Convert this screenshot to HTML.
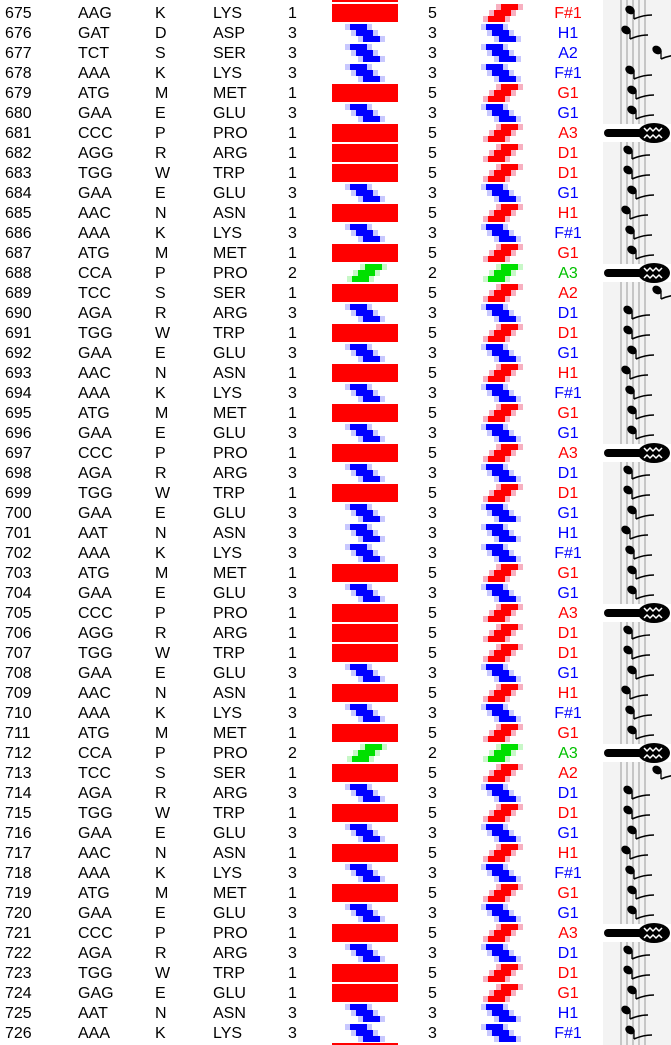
<!DOCTYPE html>
<html><head><meta charset="utf-8"><style>
html,body{margin:0;padding:0;background:#fff;}
body{width:671px;height:1045px;overflow:hidden;position:relative;font-family:"Liberation Sans",Arial,sans-serif;font-size:16px;color:#000;}
svg{position:absolute;left:0;top:0;}
</style></head><body>
<svg id="s" width="671" height="1045" xmlns="http://www.w3.org/2000/svg"></svg>
<script>
const data=`675 AAG K LYS 1 F#1
676 GAT D ASP 3 H1
677 TCT S SER 3 A2
678 AAA K LYS 3 F#1
679 ATG M MET 1 G1
680 GAA E GLU 3 G1
681 CCC P PRO 1 A3
682 AGG R ARG 1 D1
683 TGG W TRP 1 D1
684 GAA E GLU 3 G1
685 AAC N ASN 1 H1
686 AAA K LYS 3 F#1
687 ATG M MET 1 G1
688 CCA P PRO 2 A3
689 TCC S SER 1 A2
690 AGA R ARG 3 D1
691 TGG W TRP 1 D1
692 GAA E GLU 3 G1
693 AAC N ASN 1 H1
694 AAA K LYS 3 F#1
695 ATG M MET 1 G1
696 GAA E GLU 3 G1
697 CCC P PRO 1 A3
698 AGA R ARG 3 D1
699 TGG W TRP 1 D1
700 GAA E GLU 3 G1
701 AAT N ASN 3 H1
702 AAA K LYS 3 F#1
703 ATG M MET 1 G1
704 GAA E GLU 3 G1
705 CCC P PRO 1 A3
706 AGG R ARG 1 D1
707 TGG W TRP 1 D1
708 GAA E GLU 3 G1
709 AAC N ASN 1 H1
710 AAA K LYS 3 F#1
711 ATG M MET 1 G1
712 CCA P PRO 2 A3
713 TCC S SER 1 A2
714 AGA R ARG 3 D1
715 TGG W TRP 1 D1
716 GAA E GLU 3 G1
717 AAC N ASN 1 H1
718 AAA K LYS 3 F#1
719 ATG M MET 1 G1
720 GAA E GLU 3 G1
721 CCC P PRO 1 A3
722 AGA R ARG 3 D1
723 TGG W TRP 1 D1
724 GAG E GLU 1 G1
725 AAT N ASN 3 H1
726 AAA K LYS 3 F#1`.split('\n').map(l=>l.split(' '));
let o='';
o+='<rect x="603" y="0" width="68" height="1045" fill="#f3f3f3"/>';
[621,627,633,639,645].forEach(x=>o+=`<line x1="${x}" y1="0" x2="${x}" y2="1045" stroke="#999" stroke-width="1"/>`);
o+='<rect x="332" y="0" width="66" height="2" fill="red"/><rect x="332" y="1043" width="66" height="2" fill="red"/>';
const col={1:'#ff0000',3:'#0000ff',2:'#00c000'};
const num={1:5,3:3,2:2};
function icon(bx,y,dir,lt,dk){
 const offs=dir>0?[0,6,13]:[13,6,0];
 let s='';
 offs.forEach((f,k)=>{s+=`<rect x="${bx+f-5}" y="${y+6*k}" width="27" height="6" fill="${lt}"/>`;});
 offs.forEach((f,k)=>{s+=`<rect x="${bx+f}" y="${y+6*k}" width="17" height="6" fill="${dk}"/>`;});
 return s;
}
const nx={'F#1':630,'H1':626,'A2':657,'G1':632,'D1':628};
data.forEach((d,i)=>{
 const t=3+20*i, c=+d[4], cy=t+15;
 o+=`<text x="5" y="${cy}">${d[0]}</text><text x="78" y="${cy}">${d[1]}</text><text x="155" y="${cy}">${d[2]}</text><text x="213" y="${cy}">${d[3]}</text><text x="288" y="${cy}">${c}</text><text x="428" y="${cy}">${num[c]}</text>`;
 o+=`<text x="568" y="${cy}" text-anchor="middle" fill="${col[c]}">${d[5]}</text>`;
 if(c==1){o+=`<rect x="332" y="${t+1}" width="66" height="18" fill="red"/>`;o+=icon(488,t+1,-1,'#f8b0c0','#ff0000');}
 else if(c==3){o+=icon(350,t+1,1,'#c8c8ff','#0000ff');o+=icon(486,t+1,1,'#c8c8ff','#0000ff');}
 else {o+=icon(352,t+1,-1,'#c8f8c8','#00e000');o+=icon(488,t+1,-1,'#c8f8c8','#00e000');}
 if(d[5]=='A3'){
  o+=`<rect x="603" y="${t+1}" width="68" height="18" fill="#fff"/><rect x="604" y="${t+6}" width="40" height="8" rx="4" fill="#000"/><ellipse cx="654" cy="${t+10}" rx="16" ry="10" fill="#000"/><path d="M644 ${t+5}l3 3l3-3l3 3l3-3l3 3l3-3M644 ${t+15}l3-3l3 3l3-3l3 3l3-3l3 3" stroke="#fff" stroke-width="1.5" fill="none"/>`;
 } else {
  const x=nx[d[5]]||630;
  o+=`<ellipse cx="${x}" cy="${t+7}" rx="5" ry="4" transform="rotate(35 ${x} ${t+7})" fill="#000"/><line x1="${x+4}" y1="${t+8}" x2="${x+4}" y2="${t+16}" stroke="#000" stroke-width="1.3"/><path d="M${x+4} ${t+16}q9-4 18-4" stroke="#000" fill="none" stroke-width="1.6"/>`;
 }
});
document.getElementById('s').innerHTML=o;
</script>
</body></html>
